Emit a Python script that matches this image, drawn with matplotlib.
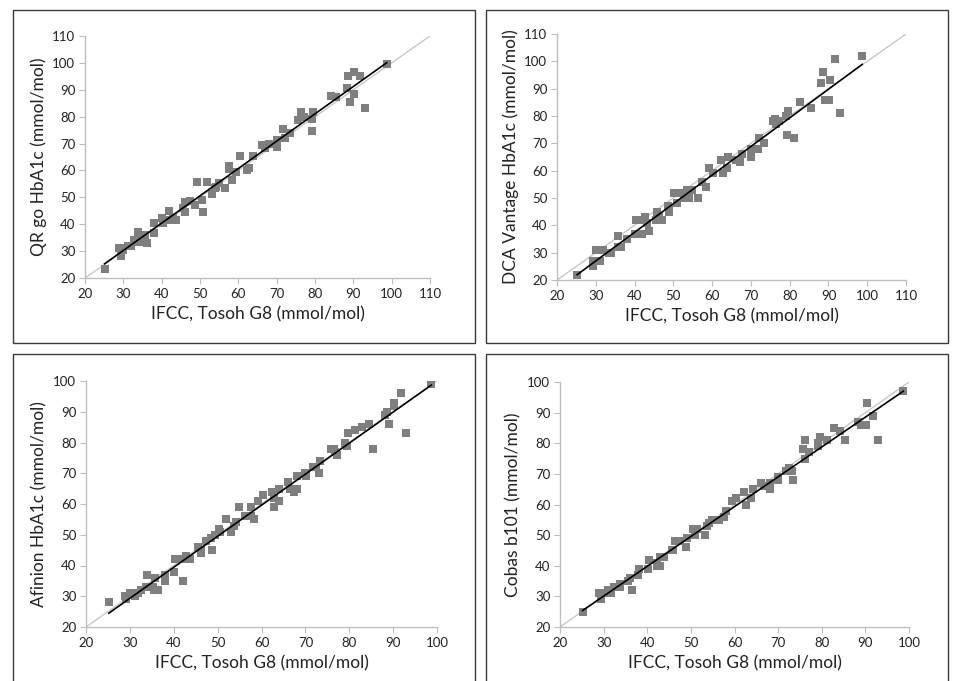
import numpy as np
import matplotlib
matplotlib.use("Agg")
import matplotlib.pyplot as plt
from matplotlib.patches import Rectangle

plt.rcParams['font.family'] = ['Lato', 'DejaVu Sans']

x_label = "IFCC, Tosoh G8 (mmol/mol)"

# Panel A: QR go
x_qr = [25.1, 28.9, 29.8, 29.3, 30.0, 31.1, 32.1, 32.8, 33.8, 33.8, 34.0, 35.7, 36.3, 37.9, 37.9,
        40.1, 40.3, 42.0, 42.2, 43.0, 43.7, 45.5, 46.2, 46.0, 47.4, 48.8, 49.1, 50.5, 50.8, 51.7,
        53.1, 53.9, 54.3, 54.9, 56.5, 57.5, 57.5, 58.4, 59.4, 60.4, 62.3, 62.8, 63.9, 66.2, 67.0,
        68.0, 70.0, 70.0, 71.7, 72.2, 73.5, 75.5, 76.3, 76.3, 77.1, 79.1, 79.2, 79.6, 84.3, 85.5,
        88.3, 88.5, 89.1, 90.2, 90.3, 91.7, 93.0, 98.7]
y_qr = [23.3, 31.3, 31.3, 28.0, 30.5, 32.0, 32.0, 34.0, 37.0, 35.0, 33.4, 36.0, 32.9, 40.3, 36.7,
        42.3, 40.4, 45.1, 41.7, 42.6, 41.7, 46.2, 48.2, 44.6, 48.6, 47.1, 55.8, 49.1, 44.6, 55.8,
        51.3, 53.3, 53.8, 55.3, 53.3, 61.5, 60.5, 56.3, 59.4, 65.4, 60.2, 60.8, 65.2, 69.4, 68.4,
        69.9, 68.6, 71.4, 75.3, 72.2, 74.1, 78.8, 81.9, 80.0, 79.7, 79.2, 74.8, 81.9, 87.8, 87.5,
        90.8, 95.1, 85.5, 96.7, 88.5, 95.1, 83.4, 99.6]

# Panel B: DCA Vantage
x_dca = [25.2, 29.2, 29.2, 30.1, 31.0, 31.9, 33.5, 33.9, 35.7, 35.7, 36.5, 38.1, 40.1, 40.3, 41.8,
         42.4, 42.6, 43.2, 43.7, 45.5, 45.9, 46.3, 47.2, 48.5, 49.0, 49.0, 50.3, 50.9, 51.6, 52.8,
         53.6, 54.1, 54.8, 56.3, 57.4, 58.3, 59.2, 60.2, 62.3, 62.7, 63.9, 64.1, 66.1, 67.3, 67.8,
         70.0, 70.0, 71.8, 72.0, 73.3, 75.7, 76.2, 76.4, 77.2, 79.1, 79.4, 79.6, 81.2, 82.6, 85.5,
         88.1, 88.6, 89.0, 90.2, 90.3, 91.7, 92.9, 98.7]
y_dca = [22, 27, 25, 31, 27, 31, 30, 30, 36, 32, 32, 35, 37, 42, 37,
         42, 43, 41, 38, 42, 45, 43, 42, 47, 45, 46, 52, 48, 52, 50,
         53, 50, 53, 50, 56, 54, 61, 59, 64, 59, 61, 65, 64, 63, 66,
         68, 65, 68, 72, 70, 78, 79, 77, 78, 80, 73, 82, 72, 85, 83,
         92, 96, 86, 86, 93, 101, 81, 102]

# Panel C: Afinion
x_afi = [25.2, 29.0, 29.2, 30.1, 31.2, 31.9, 32.5, 33.9, 33.7, 35.3, 35.8, 35.5, 36.5, 38.0, 38.0,
         38.0, 40.1, 40.3, 42.0, 42.1, 42.8, 43.7, 45.5, 46.2, 46.2, 47.4, 48.7, 48.6, 49.3, 50.4,
         50.6, 51.8, 53.1, 53.7, 54.1, 54.9, 56.3, 57.6, 57.6, 58.4, 59.2, 60.4, 62.3, 62.9, 62.9,
         64.1, 64.1, 66.1, 66.6, 67.5, 68.1, 68.1, 69.9, 70.1, 71.8, 72.4, 73.2, 73.4, 75.9, 76.5,
         76.8, 77.1, 79.1, 79.4, 79.7, 81.2, 82.8, 84.4, 85.5, 88.2, 88.5, 89.1, 90.3, 90.3, 91.9,
         93.0, 98.7]
y_afi = [28, 30, 29, 31, 30, 31, 32, 37, 33, 33, 36, 32, 32, 37, 36,
         35, 38, 42, 35, 42, 43, 42, 46, 44, 45, 48, 45, 49, 50, 52,
         51, 55, 51, 53, 54, 59, 56, 59, 56, 55, 61, 63, 64, 59, 62,
         65, 61, 67, 65, 64, 69, 65, 70, 69, 72, 72, 70, 74, 78, 78,
         77, 76, 80, 79, 83, 84, 85, 86, 78, 89, 90, 86, 93, 92, 96,
         83, 99]

# Panel D: Cobas b101
x_cob = [25.2, 28.9, 29.3, 30.0, 31.1, 31.8, 32.4, 33.8, 33.8, 35.5, 36.0, 36.4, 37.8, 38.0, 40.1,
         40.4, 42.2, 42.2, 43.0, 43.0, 43.8, 45.6, 46.0, 46.3, 47.4, 48.8, 49.1, 50.4, 50.9, 51.4,
         53.2, 53.8, 54.2, 54.9, 56.5, 57.5, 58.0, 59.4, 60.4, 62.1, 62.7, 63.8, 64.2, 66.1, 66.7,
         68.1, 68.1, 70.0, 70.0, 71.9, 72.5, 73.4, 73.2, 75.7, 76.2, 76.2, 77.0, 79.1, 79.1, 79.6,
         81.1, 82.8, 84.2, 85.3, 88.4, 89.0, 90.2, 90.4, 91.8, 93.0, 98.7]
y_cob = [25, 31, 29, 31, 32, 31, 33, 34, 33, 35, 36, 32, 37, 39, 39,
         42, 41, 40, 43, 40, 43, 45, 45, 48, 48, 46, 49, 52, 50, 52,
         50, 53, 54, 55, 55, 56, 58, 61, 62, 64, 60, 62, 65, 67, 66,
         65, 67, 68, 69, 71, 72, 68, 71, 78, 81, 75, 77, 79, 80, 82,
         81, 85, 84, 81, 87, 86, 86, 93, 89, 81, 97]

panels = [
    ("QR go HbA1c (mmol/mol)", x_qr, y_qr, 110, [85, 430, 36, 278]),
    ("DCA Vantage HbA1c (mmol/mol)", x_dca, y_dca, 110, [557, 906, 34, 280]),
    ("Afinion HbA1c (mmol/mol)", x_afi, y_afi, 100, [86, 437, 381, 627]),
    ("Cobas b101 (mmol/mol)", x_cob, y_cob, 100, [560, 909, 382, 627]),
]
boxes = [[13, 475, 10, 343], [486, 948, 10, 343], [13, 475, 354, 700], [486, 948, 354, 700]]

W, H = 955, 681
fig = plt.figure(figsize=(W / 100, H / 100), dpi=100)

for (l, r, t, b) in boxes:
    fig.patches.append(Rectangle((l / W, 1 - b / H), (r - l) / W, (b - t) / H,
                                 transform=fig.transFigure, fill=False,
                                 edgecolor='#3a3a3a', linewidth=1.0))

axis_col = '#bfbfbf'
for ylab, xs, ys, vmax, (l, r, t, b) in panels:
    ax = fig.add_axes([l / W, 1 - b / H, (r - l) / W, (b - t) / H])
    xs = np.array(xs); ys = np.array(ys)
    ax.plot([20, vmax], [20, vmax], color='#c8c8c8', lw=1.0, zorder=1)
    ax.scatter(xs, ys, marker='s', s=30, color='#7f7f7f', linewidths=0, zorder=2)
    k, c = np.polyfit(xs, ys, 1)
    xx = np.array([xs.min(), xs.max()])
    ax.plot(xx, k * xx + c, color='black', lw=1.2, zorder=3)
    ax.set_xlim(20, vmax)
    ax.set_ylim(20, vmax)
    ticks = np.arange(20, vmax + 1, 10)
    ax.set_xticks(ticks)
    ax.set_yticks(ticks)
    for s in ['top', 'right']:
        ax.spines[s].set_visible(False)
    for s in ['left', 'bottom']:
        ax.spines[s].set_color(axis_col)
        ax.spines[s].set_linewidth(1.0)
    ax.tick_params(direction='out', length=4, color=axis_col, labelsize=9.5,
                   labelcolor='#222222', pad=3)
    ax.set_xlabel(x_label, fontsize=12.5, color='#222222', labelpad=5)
    ax.set_ylabel(ylab, fontsize=12.5, color='#222222', labelpad=4)
    ax.patch.set_alpha(0)

fig.savefig("out.png", dpi=100)
